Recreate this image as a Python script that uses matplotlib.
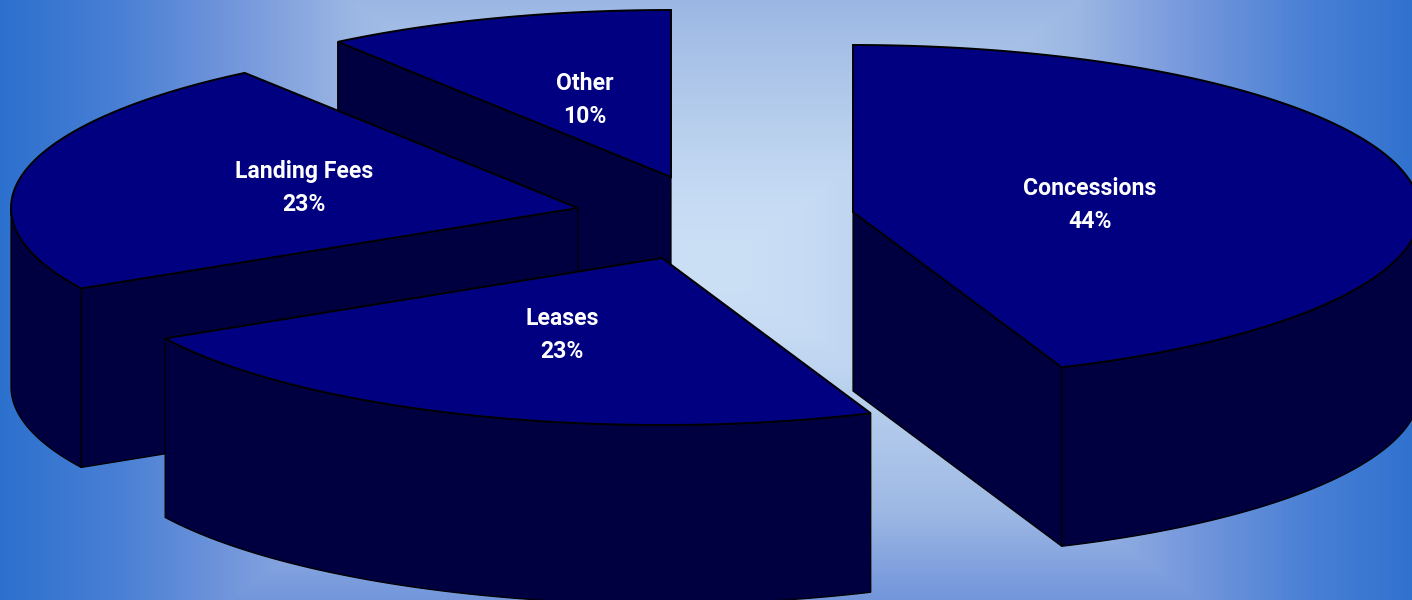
import numpy as np
import matplotlib
matplotlib.use("Agg")
import matplotlib.pyplot as plt
from matplotlib.colors import LinearSegmentedColormap
from matplotlib.patches import Polygon

# Revenue shares by source
categories = ["Concessions", "Leases", "Landing Fees", "Other"]
shares = [44, 23, 23, 10]

# Pixel geometry of the exploded pie: where each wedge's tip sits and its label
W, H = 1412, 600
RX, RY, DEPTH = 567, 167, 179
TIPS = {
    "Concessions": (853, 212),
    "Leases": (662, 258),
    "Landing Fees": (578, 208),
    "Other": (671, 177),
}
LABELS = {
    "Concessions": (1090, 205),
    "Leases": (562, 335),
    "Landing Fees": (304, 188),
    "Other": (585, 100),
}
DRAW_ORDER = ["Other", "Landing Fees", "Leases", "Concessions"]

TOP = "#000080"
SIDE = "#000040"
EDGE = "#000000"

fig = plt.figure(figsize=(W / 100, H / 100), dpi=100)
ax = fig.add_axes([0, 0, 1, 1])
ax.set_xlim(0, W)
ax.set_ylim(H, 0)
ax.axis("off")

# Rectangular backdrop gradient, pale in the middle and saturated at the rim
cx, cy = 715, 268
xx, yy = np.meshgrid(np.arange(W) + 0.5, np.arange(H) + 0.5)
ry = np.where(yy < cy, 525, 488)
t = np.maximum(np.abs(xx - cx) / 715, np.abs(yy - cy) / ry)
stops = [
    (0.0, "#CCE0F5"),
    (0.12, "#C7DCF4"),
    (0.25, "#BAD1EE"),
    (0.5, "#9DB8E4"),
    (0.664, "#7698DC"),
    (0.83, "#4A80D5"),
    (1.0, "#2C70CE"),
]
cmap = LinearSegmentedColormap.from_list("backdrop", stops, N=256)
ax.imshow(t, cmap=cmap, vmin=0, vmax=1, extent=(0, W, H, 0), aspect="auto",
          interpolation="nearest", zorder=0)


def rim(tip, a0, a1, n=160):
    """Points on the wedge's elliptical rim, angles clockwise from twelve o'clock."""
    a = np.radians(np.linspace(a0, a1, n))
    return np.column_stack((tip[0] + RX * np.sin(a), tip[1] - RY * np.cos(a)))


def face(points, colour, lw, z):
    ax.add_patch(Polygon(points, closed=True, facecolor=colour, edgecolor=EDGE,
                         linewidth=lw, joinstyle="miter", zorder=z))


# Angular span of every wedge comes straight from its share
spans = {}
start = 0.0
for name, share in zip(categories, shares):
    spans[name] = (start, start + share * 3.6)
    start += share * 3.6

down = np.array([0, DEPTH])
for i, name in enumerate(DRAW_ORDER):
    tip = np.array(TIPS[name], dtype=float)
    a0, a1 = spans[name]
    z = 2 + i
    arc = rim(tip, a0, a1)

    # Cut faces along the radii that look towards the viewer
    if 180 < a0 < 360:
        p = arc[0]
        face([tip, p, p + down, tip + down], SIDE, 0.9, z)
    if 0 < a1 < 180:
        p = arc[-1]
        face([tip, p, p + down, tip + down], SIDE, 0.9, z)

    # Outer wall: only the front half of the rim is visible
    lo, hi = max(a0, 90), min(a1, 270)
    if lo < hi:
        wall = rim(tip, lo, hi)
        face(np.vstack((wall, (wall + down)[::-1])), SIDE, 0.9, z)

    # Top surface of the wedge
    face(np.vstack((tip, arc)), TOP, 1.4, z)

for name, share in zip(categories, shares):
    x, y = LABELS[name]
    ax.text(x, y, f"{name}\n{share}%", color="white", ha="center", va="center",
            family="Roboto", weight="bold", fontsize=16.6,
            linespacing=1.55, zorder=20)

fig.savefig("out.png", dpi=100)
